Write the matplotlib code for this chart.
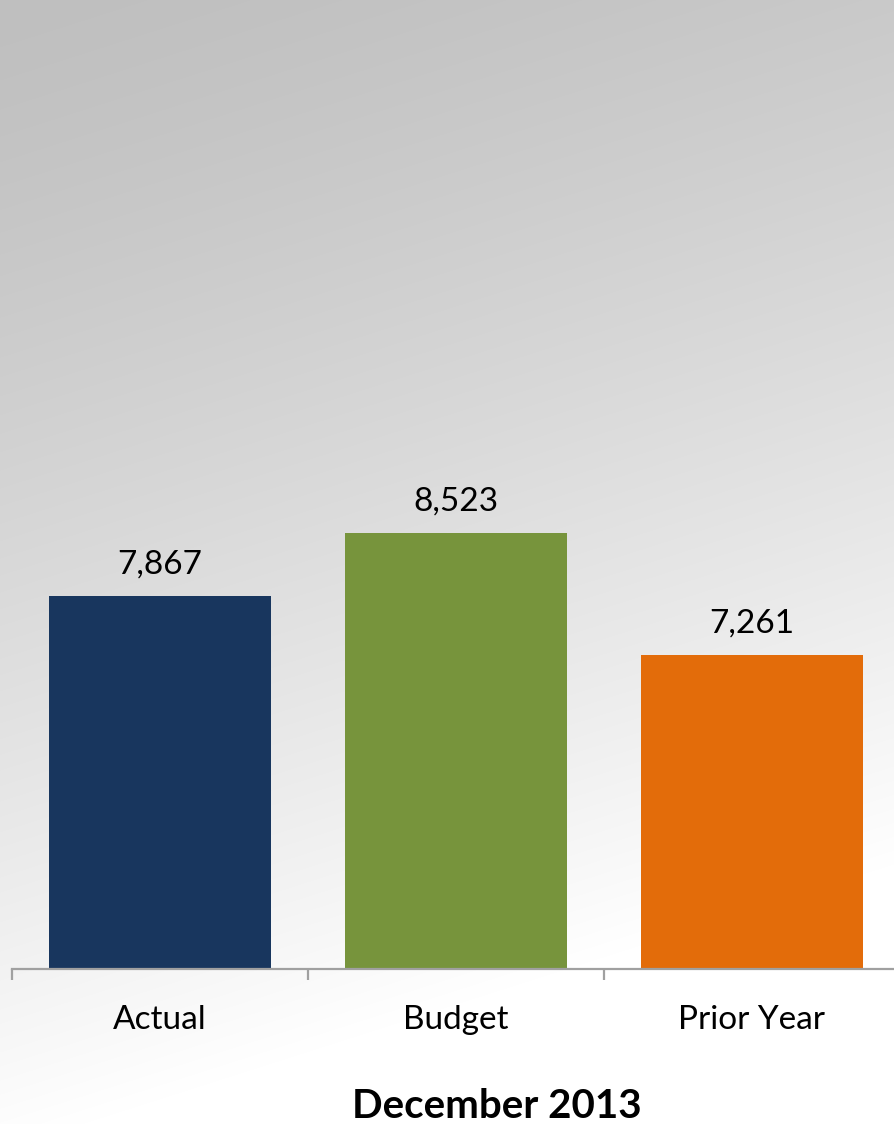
import numpy as np
import matplotlib
matplotlib.use("Agg")
import matplotlib.pyplot as plt

# Monthly totals, December 2013
categories = ["Actual", "Budget", "Prior Year"]
values = [7867, 8523, 7261]
bar_colors = ["#18365e", "#77943c", "#e36c0a"]
period = "December 2013"

plt.rcParams["font.family"] = ["Lato", "DejaVu Sans"]

W, H = 895, 1124
fig = plt.figure(figsize=(W / 100, H / 100), dpi=100)

# diagonal grey-to-white background
bg = fig.add_axes([0, 0, 1, 1], zorder=0)
xx, yy = np.meshgrid(np.arange(W), np.arange(H))
s = np.clip((0.32 * xx + yy) / 1150.0, 0, 1) ** 1.3
shade = (191 + 64 * s) / 255.0
bg.imshow(np.dstack([shade, shade, shade]), aspect="auto", interpolation="bilinear")
bg.axis("off")

# plot area: baseline at 4,000, categories spaced evenly
left, right = 12, 900
base_y, top_y = 969, 391
ax = fig.add_axes([left / W, (H - base_y) / H, (right - left) / W, (base_y - top_y) / H], zorder=1)
ax.patch.set_alpha(0)

x = np.arange(len(categories))
bars = ax.bar(x, values, width=0.75, color=bar_colors, bottom=0)
ax.set_ylim(4000, 10000)
ax.set_xlim(-0.5, len(categories) - 0.5)

for b, v in zip(bars, values):
    ax.annotate(f"{v:,}", (b.get_x() + b.get_width() / 2, v),
                xytext=(0, 12), textcoords="offset points",
                ha="center", va="bottom", fontsize=24, color="black")

for sp in ["top", "left", "right"]:
    ax.spines[sp].set_visible(False)
ax.spines["bottom"].set_color("#a0a0a0")
ax.spines["bottom"].set_linewidth(1.6)
ax.yaxis.set_visible(False)

ax.set_xticks(x)
ax.set_xticklabels(categories, fontsize=24)
ax.tick_params(axis="x", which="major", length=0, pad=26)
ax.set_xticks(np.arange(len(categories) + 1) - 0.5, minor=True)
ax.tick_params(axis="x", which="minor", length=8, width=1.6, color="#a0a0a0", direction="out")

fig.text(497 / W, 1 - 1106 / H, period, ha="center", va="center",
         fontsize=29, fontweight="bold", color="black")

fig.savefig("out.png", dpi=100)
